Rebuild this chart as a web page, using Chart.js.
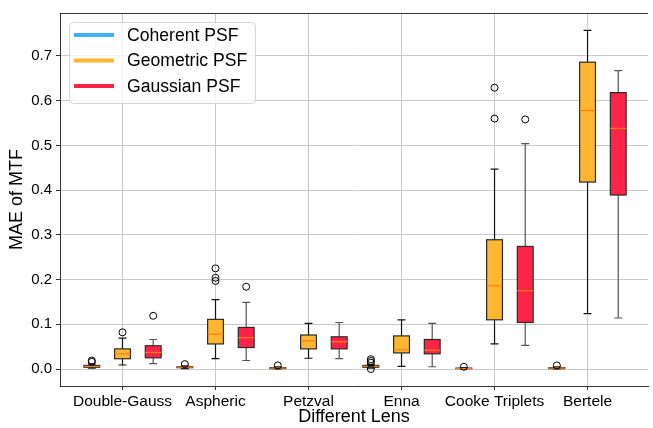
<!DOCTYPE html>
<html>
<head>
<meta charset="utf-8">
<script src="https://cdn.jsdelivr.net/npm/chart.js@4"></script>
<style>
  body { margin: 0; overflow: hidden; background: #fff; }
  #wrap { width: 653px; height: 428px; }
</style>
</head>
<body>
<div id="wrap"><canvas id="chart" width="653" height="428"></canvas></div>
<script>
// Data
const lenses = ["Double-Gauss", "Aspheric", "Petzval", "Enna", "Cooke Triplets", "Bertele"];
const yTicks = [0.0, 0.1, 0.2, 0.3, 0.4, 0.5, 0.6, 0.7];
const seriesNames = ["Coherent PSF", "Geometric PSF", "Gaussian PSF"];

// each box: [lower whisker, Q1, median, Q3, upper whisker]
const coherentBoxes = [
    [0.002, 0.004, 0.006, 0.008, 0.011],
    [0.001, 0.003, 0.004, 0.005, 0.007],
    [0.000, 0.001, 0.002, 0.003, 0.005],
    [0.002, 0.004, 0.006, 0.008, 0.010],
    [0.000, 0.001, 0.001, 0.002, 0.003],
    [0.000, 0.001, 0.002, 0.003, 0.005]
];
const geometricBoxes = [
    [0.009, 0.023, 0.034, 0.045, 0.069],
    [0.023, 0.056, 0.078, 0.111, 0.155],
    [0.024, 0.045, 0.063, 0.076, 0.102],
    [0.006, 0.036, 0.043, 0.074, 0.110],
    [0.056, 0.110, 0.186, 0.289, 0.447],
    [0.124, 0.418, 0.578, 0.686, 0.757]
];
const gaussianBoxes = [
    [0.012, 0.025, 0.037, 0.052, 0.066],
    [0.019, 0.048, 0.070, 0.093, 0.149],
    [0.023, 0.045, 0.061, 0.072, 0.104],
    [0.005, 0.034, 0.042, 0.066, 0.102],
    [0.053, 0.104, 0.175, 0.274, 0.504],
    [0.114, 0.389, 0.538, 0.618, 0.667]
];

// outliers per lens
const coherentOutliers = [[0.016, 0.019], [0.011], [0.008], [0.014, 0.018, 0.022, 0.0], [0.005], [0.008]];
const geometricOutliers = [[0.082], [0.197, 0.204, 0.225], [], [], [0.560, 0.629], []];
const gaussianOutliers = [[0.119], [0.184], [], [], [0.558], []];

// Looks
const seriesColors = ["#3fb1fb", "#ffb732", "#ff2447"];
const whiskerColors = ["#222", "#111", "#555"];
const offsets = [-0.33, 0, 0.33];
const boxWidth = 0.17;
const medianColor = "#ff7f0e";
const fontFamily = "'Liberation Sans', Arial, sans-serif";

const allBoxes = [coherentBoxes, geometricBoxes, gaussianBoxes];
const allOutliers = [coherentOutliers, geometricOutliers, gaussianOutliers];

// scatter datasets for the fliers
const outlierDatasets = allOutliers.map((list, s) => ({
    label: seriesNames[s] + " outliers",
    data: list.flatMap((vals, i) => vals.map(v => ({ x: i + 1 + offsets[s], y: v }))),
    pointStyle: "circle",
    pointRadius: 3.5,
    pointBorderWidth: 1,
    pointBorderColor: "#000",
    pointBackgroundColor: "rgba(0,0,0,0)",
    showLine: false
}));

// draws boxes, whiskers, medians through the chart scales
const boxPlugin = {
    id: "boxes",
    beforeDatasetsDraw(chart) {
        const { ctx, chartArea, scales: { x, y } } = chart;
        const half = (x.getPixelForValue(boxWidth) - x.getPixelForValue(0)) / 2;
        ctx.save();
        ctx.beginPath();
        ctx.rect(chartArea.left, chartArea.top, chartArea.right - chartArea.left, chartArea.bottom - chartArea.top);
        ctx.clip();
        allBoxes.forEach((boxes, s) => {
            boxes.forEach((b, i) => {
                const cx = x.getPixelForValue(i + 1 + offsets[s]);
                const [lo, q1, med, q3, hi] = b.map(v => y.getPixelForValue(v));
                // whiskers
                ctx.strokeStyle = whiskerColors[s];
                ctx.lineWidth = 1.2;
                ctx.beginPath();
                ctx.moveTo(cx, q3); ctx.lineTo(cx, hi);
                ctx.moveTo(cx, q1); ctx.lineTo(cx, lo);
                ctx.moveTo(cx - half / 2, hi); ctx.lineTo(cx + half / 2, hi);
                ctx.moveTo(cx - half / 2, lo); ctx.lineTo(cx + half / 2, lo);
                ctx.stroke();
                // box
                ctx.fillStyle = seriesColors[s];
                ctx.fillRect(cx - half, q3, half * 2, q1 - q3);
                ctx.strokeStyle = "#2a2a2a";
                ctx.lineWidth = 1.2;
                ctx.strokeRect(cx - half, q3, half * 2, q1 - q3);
                // median
                ctx.strokeStyle = medianColor;
                ctx.lineWidth = 1.2;
                ctx.beginPath();
                ctx.moveTo(cx - half, med); ctx.lineTo(cx + half, med);
                ctx.stroke();
            });
        });
        ctx.restore();
    },
    afterDatasetsDraw(chart) {
        // top spine (right spine falls outside the picture)
        const { ctx, chartArea } = chart;
        ctx.save();
        ctx.strokeStyle = "#333";
        ctx.lineWidth = 1;
        ctx.beginPath();
        ctx.moveTo(chartArea.left, chartArea.top + 0.5);
        ctx.lineTo(chartArea.right, chartArea.top + 0.5);
        ctx.stroke();
        ctx.restore();
    },
    afterDraw(chart) {
        // legend inside the plot, top left
        const { ctx, chartArea } = chart;
        const lx = chartArea.left + 9, ly = chartArea.top + 9;
        ctx.save();
        ctx.fillStyle = "rgba(255,255,255,0.8)";
        ctx.strokeStyle = "#d6d6d6";
        ctx.lineWidth = 1;
        ctx.beginPath();
        ctx.roundRect(lx + 0.5, ly + 0.5, 186, 81, 4);
        ctx.fill();
        ctx.stroke();
        ctx.font = "17.6px " + fontFamily;
        ctx.textBaseline = "middle";
        seriesNames.forEach((name, s) => {
            const rowY = ly + 13 + s * 25.5;
            ctx.strokeStyle = seriesColors[s];
            ctx.lineWidth = 4;
            ctx.beginPath();
            ctx.moveTo(lx + 5, rowY);
            ctx.lineTo(lx + 45, rowY);
            ctx.stroke();
            ctx.fillStyle = "#000";
            ctx.fillText(name, lx + 58, rowY + 1);
        });
        ctx.restore();
    }
};

const chart = new Chart(document.getElementById("chart"), {
    type: "scatter",
    data: { datasets: outlierDatasets },
    options: {
        responsive: false,
        animation: false,
        layout: { padding: { top: 7, right: 0, left: 0, bottom: 0 } },
        plugins: { legend: { display: false }, tooltip: { enabled: false } },
        scales: {
            x: {
                type: "linear",
                min: 0.328,
                max: 6.650,
                afterBuildTicks: s => { s.ticks = lenses.map((_, i) => ({ value: i + 1 })); },
                afterFit: s => { s.height = 42; },
                ticks: {
                    callback: v => lenses[Math.round(v) - 1],
                    autoSkip: false,
                    maxRotation: 0,
                    padding: 2,
                    color: "#000",
                    font: { family: fontFamily, size: 15.5 }
                },
                grid: { color: "#c8c8c8", tickColor: "#333", tickLength: 4, lineWidth: 1 },
                border: { color: "#333", width: 1 },
                title: {
                    display: true,
                    text: "Different Lens",
                    color: "#000",
                    font: { family: fontFamily, size: 18 },
                    padding: { top: 0, bottom: 0 }
                }
            },
            y: {
                min: -0.038,
                max: 0.796,
                afterBuildTicks: s => { s.ticks = yTicks.map(v => ({ value: v })); },
                afterFit: s => { s.width = 60; },
                ticks: {
                    callback: v => v.toFixed(1),
                    padding: 4,
                    color: "#000",
                    font: { family: fontFamily, size: 15 }
                },
                grid: { color: "#c8c8c8", tickColor: "#333", tickLength: 4, lineWidth: 1 },
                border: { color: "#333", width: 1 },
                title: {
                    display: true,
                    text: "MAE of MTF",
                    color: "#000",
                    font: { family: fontFamily, size: 18 },
                    padding: { top: 6, bottom: 0 }
                }
            }
        }
    },
    plugins: [boxPlugin]
});
</script>
</body>
</html>
